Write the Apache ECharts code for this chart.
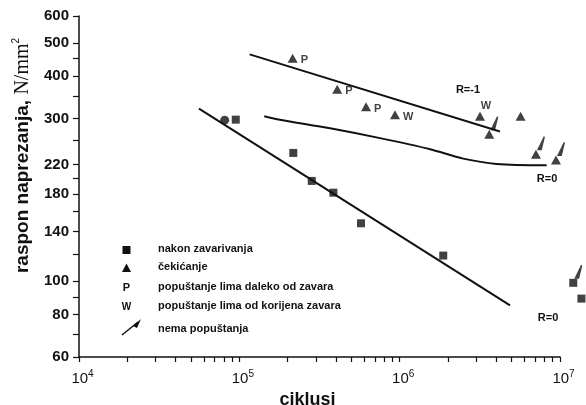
<!DOCTYPE html>
<html><head><meta charset="utf-8">
<script src="https://cdn.jsdelivr.net/npm/echarts@6/dist/echarts.min.js"></script>
<style>html,body{margin:0;padding:0;background:#fff}#c{width:586px;height:405px}</style>
</head><body><div id="c"></div>
<script>
// axis ticks / labels
const xLabelValues = [10000, 100000, 1000000, 10000000];
const xLabelExp = ['4', '5', '6', '7'];
const xTickValues = [10000,20000,30000,40000,50000,60000,70000,80000,90000,
  100000,200000,300000,400000,500000,600000,700000,800000,900000,
  1000000,2000000,3000000,4000000,5000000,6000000,7000000,8000000,9000000,10000000];
const yLabelValues = [60, 80, 100, 140, 180, 220, 300, 400, 500, 600];
const yTickValues = [60,70,80,90,100,120,140,160,180,200,220,260,300,350,400,450,500,600];

// data (cycles, stress range N/mm2)
const circleCycles = [81000];
const circleStress = [297];
const weldedCycles = [95000, 217000, 283000, 386000, 574000, 1870000, 12100000, 13600000];
const weldedStress = [298, 238, 197, 182, 148, 119, 99, 89];
const peenedCycles = [215000, 408000, 617000, 935000, 3170000, 3620000, 5680000, 7080000, 9440000];
const peenedStress = [451, 366, 325, 308, 305, 270, 305, 236, 227];
const peenedTags = ['P', 'P', 'P', 'W', 'W', '', '', '', ''];
const runoutCycles = [3620000, 7080000, 9440000, 12100000];
const runoutStress = [270, 236, 227, 99];
const fitWeldedCycles = [56000, 4880000];
const fitWeldedStress = [321, 85];
const fitR1Cycles = [116000, 4220000];
const fitR1Stress = [463, 275];
const fitR0Cycles = [143000, 179000, 368000, 754000, 1550000, 2490000, 4030000, 8260000];
const fitR0Stress = [305, 298, 281, 263, 244, 229, 221, 219];

const legendNames = ['nakon zavarivanja', 'čekićanje', 'popuštanje lima daleko od zavara',
  'popuštanje lima od korijena zavara', 'nema popuštanja'];
const annotations = ['R=-1', 'R=0', 'R=0'];

const zip = (a, b) => a.map((v, i) => [v, b[i]]);
const FONT = 'Liberation Sans, Arial, sans-serif';
const arrowPath = 'path://M0,16 L6,16 L10,1 L8.5,0 Z';

const chart = echarts.init(document.getElementById('c'), null, {renderer: 'canvas'});
const peenedData = peenedCycles.map((c, i) => {
  const item = {value: [c, peenedStress[i]]};
  if (i === 4) item.label = {position: 'top', offset: [6, 3]};
  return item;
});

const legendRowsY = [250, 268, 288, 307, 330];
const graphic = [];
legendNames.forEach((n, i) => {
  graphic.push({type: 'text', left: 158, top: legendRowsY[i] - 7,
    style: {text: n, font: 'bold 11px ' + FONT, fill: '#111'}});
});
graphic.push({type: 'rect', shape: {x: 122.5, y: 246, width: 8, height: 8}, style: {fill: '#111'}});
graphic.push({type: 'polygon', shape: {points: [[126.5, 263.5], [131, 272], [122, 272]]}, style: {fill: '#111'}});
graphic.push({type: 'text', x: 126.5, y: 288, style: {text: 'P', font: 'bold 11px ' + FONT, fill: '#111', align: 'center', verticalAlign: 'middle'}});
graphic.push({type: 'text', x: 126.5, y: 307, style: {text: 'W', font: 'bold 10px ' + FONT, fill: '#111', align: 'center', verticalAlign: 'middle'}});
graphic.push({type: 'line', shape: {x1: 122, y1: 335, x2: 138, y2: 322}, style: {stroke: '#111', lineWidth: 1.5}});
graphic.push({type: 'polygon', shape: {points: [[133, 326], [141, 319], [137, 328]]}, style: {fill: '#111'}});
const annPos = [[468, 90], [547, 179], [548, 318]];
annotations.forEach((t, i) => {
  graphic.push({type: 'text', x: annPos[i][0], y: annPos[i][1],
    style: {text: t, font: 'bold 11px ' + FONT, fill: '#111', align: 'center', verticalAlign: 'middle'}});
});

chart.setOption({
  animation: false,
  backgroundColor: '#fff',
  grid: {left: 79, right: 26, top: 16, bottom: 48, outerBoundsMode: 'none', containLabel: false},
  xAxis: {
    type: 'log', logBase: 10, min: 10000, max: 10000000,
    name: 'ciklusi', nameLocation: 'middle', nameGap: 31,
    nameTextStyle: {fontFamily: FONT, fontWeight: 'bold', fontSize: 18, color: '#111', padding: [0, 24, 0, 0]},
    axisLine: {lineStyle: {color: '#111', width: 1.5}},
    axisTick: {show: true, customValues: xTickValues, length: 5, lineStyle: {color: '#111', width: 1.2}},
    axisLabel: {
      customValues: xLabelValues, margin: 12,
      formatter: v => '{a|10}{b|' + xLabelExp[xLabelValues.findIndex(x => Math.abs(x - v) / x < 1e-6)] + '}',
      rich: {
        a: {fontFamily: FONT, fontSize: 15, color: '#111', padding: [0, 0, 0, 7]},
        b: {fontFamily: FONT, fontSize: 10, color: '#111', padding: [0, 0, 10, 0]}
      }
    },
    splitLine: {show: false}, minorTick: {show: false}
  },
  yAxis: {
    type: 'log', logBase: 10, min: 60, max: 600,
    name: '{a|raspon naprezanja, }{b|N/mm}{c|2}', nameLocation: 'middle', nameGap: 41,
    nameTextStyle: {
      padding: [0, 0, 0, 62],
      rich: {
        a: {fontFamily: FONT, fontWeight: 'bold', fontSize: 19, color: '#111'},
        b: {fontFamily: 'Liberation Serif, serif', fontSize: 20, color: '#111'},
        c: {fontFamily: FONT, fontSize: 10, color: '#111', padding: [0, 0, 13, 0]}
      }
    },
    axisLine: {show: true, lineStyle: {color: '#111', width: 1.5}},
    axisTick: {show: true, customValues: yTickValues, length: 6, lineStyle: {color: '#111', width: 1.2}},
    axisLabel: {customValues: yLabelValues, margin: 10, fontFamily: FONT, fontSize: 15, fontWeight: 'bold', color: '#111'},
    splitLine: {show: false}, minorTick: {show: false}
  },
  graphic: graphic,
  series: [
    {type: 'line', data: zip(fitWeldedCycles, fitWeldedStress), symbol: 'none', lineStyle: {color: '#111', width: 2}, silent: true},
    {type: 'line', data: zip(fitR1Cycles, fitR1Stress), symbol: 'none', lineStyle: {color: '#111', width: 2}, silent: true},
    {type: 'line', data: zip(fitR0Cycles, fitR0Stress), symbol: 'none', smooth: 0.3, lineStyle: {color: '#111', width: 2}, silent: true},
    {type: 'scatter', data: zip(circleCycles, circleStress), symbol: 'circle', symbolSize: 9, itemStyle: {color: '#111'}, clip: false},
    {name: legendNames[0], type: 'scatter', data: zip(weldedCycles, weldedStress), symbol: 'rect', symbolSize: 8, itemStyle: {color: '#111'}, clip: false},
    {name: legendNames[1], type: 'scatter', data: peenedData, symbol: 'triangle', symbolSize: [10, 9], itemStyle: {color: '#111'}, clip: false,
      label: {show: true, position: 'right', distance: 3, offset: [0, 2], formatter: p => peenedTags[p.dataIndex],
        fontFamily: FONT, fontWeight: 'bold', fontSize: 11, color: '#111'}},
    {name: legendNames[4], type: 'scatter', data: zip(runoutCycles, runoutStress), symbol: arrowPath, symbolSize: [8, 14],
      symbolOffset: [5, -11], itemStyle: {color: '#111'}, clip: false}
  ]
});
</script></body></html>
